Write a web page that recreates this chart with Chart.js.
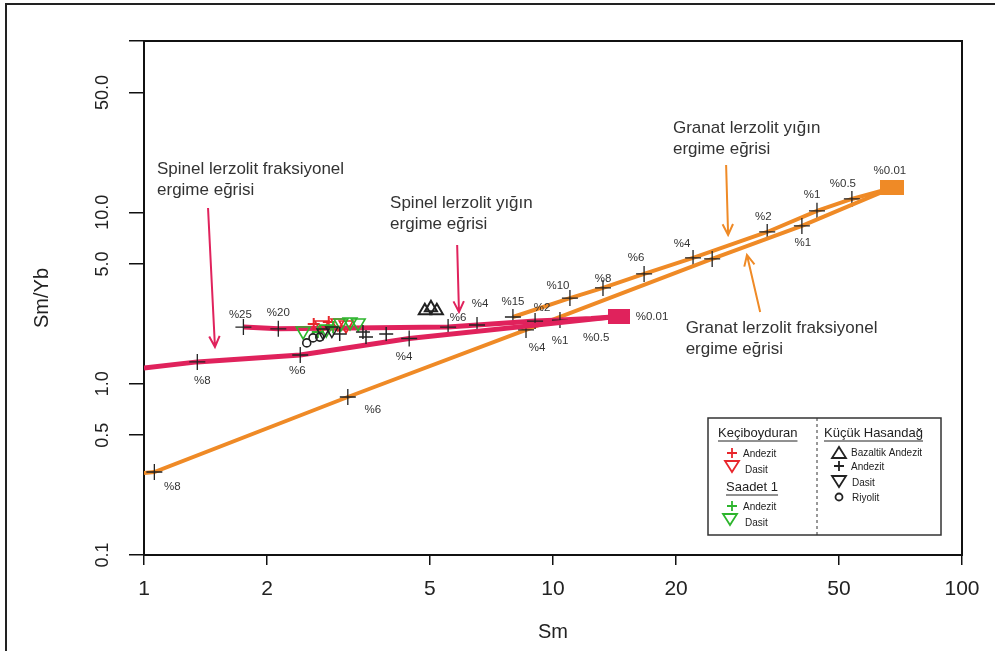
<!DOCTYPE html>
<html>
<head>
<meta charset="utf-8">
<title>Sm/Yb - Sm</title>
<script src="https://cdn.jsdelivr.net/npm/chart.js@4.4.1/dist/chart.umd.min.js"></script>
<style>
  html, body { margin: 0; padding: 0; background: #fff; overflow: hidden; }
  #wrap { position: relative; width: 995px; height: 651px; }
  #frame { position: absolute; left: 5px; top: 3px; width: 1200px; height: 1000px; border: 2px solid #222; }
  #c { position: absolute; left: 0; top: 0; }
</style>
</head>
<body>
<div id="wrap">
  <div id="frame"></div>
  <canvas id="c" width="995" height="651"></canvas>
</div>
<script>
// eksenler
const xTicks = [1, 2, 5, 10, 20, 50, 100];
const xTickLabels = ['1', '2', '5', '10', '20', '50', '100'];
const yTicks = [0.1, 0.5, 1, 5, 10, 50, 100];
const yTickLabels = ['0.1', '0.5', '1.0', '5.0', '10.0', '50.0', ''];

// Spinel lerzolit fraksiyonel ergime egrisi
const spinelFracSm = [1.0, 1.35, 2.41, 4.45, 14.5];
const spinelFracSmYb = [1.235, 1.34, 1.47, 1.835, 2.47];
const spinelFracLabels = ['', '%8', '%6', '%4', ''];

// Spinel lerzolit yigin ergime egrisi
const spinelBatchSm = [1.75, 2.13, 5.54, 6.52, 9.04, 10.4, 12.4, 14.5];
const spinelBatchSmYb = [2.14, 2.09, 2.14, 2.20, 2.32, 2.35, 2.40, 2.47];
const spinelBatchLabels = ['%25', '%20', '%6', '%4', '%2', '%1', '%0.5', ''];

// Granat lerzolit fraksiyonel ergime egrisi
const garnetFracSm = [1.0, 1.06, 3.15, 8.59, 24.5, 40.6, 67.4];
const garnetFracSmYb = [0.301, 0.305, 0.836, 2.06, 5.35, 8.33, 13.9];
const garnetFracLabels = ['', '%8', '%6', '%4', '', '%1', ''];

// Granat lerzolit yigin ergime egrisi
const garnetBatchSm = [7.98, 11.0, 13.25, 16.7, 22.0, 33.4, 44.2, 53.8, 67.4];
const garnetBatchSmYb = [2.45, 3.16, 3.62, 4.37, 5.42, 7.68, 10.2, 11.97, 13.9];
const garnetBatchLabels = ['%15', '%10', '%8', '%6', '%4', '%2', '%1', '%0.5', ''];

// kaynak (%0.01)
const sourceSm = [14.5, 67.4];
const sourceSmYb = [2.47, 13.9];
const sourceLabels = ['%0.01', '%0.01'];

// Keciboyduran
const kbAndezitSm = [2.60, 2.83];
const kbAndezitSmYb = [2.23, 2.29];
const kbDasitSm = [2.72, 2.98, 3.12];
const kbDasitSmYb = [2.20, 2.26, 2.20];
// Saadet 1
const saAndezitSm = [2.66, 2.90];
const saAndezitSmYb = [2.00, 2.14];
const saDasitSm = [2.45, 2.79, 3.03, 3.19, 3.34];
const saDasitSmYb = [2.03, 2.08, 2.26, 2.29, 2.26];
// Kucuk Hasandag
const khBazAndSm = [4.86, 5.03, 5.20];
const khBazAndSmYb = [2.66, 2.77, 2.66];
const khAndezitSm = [3.01, 3.43, 3.49, 3.91];
const khAndezitSmYb = [1.95, 2.00, 1.87, 1.95];
const khDasitSm = [2.74, 2.88];
const khDasitSmYb = [1.99, 2.04];
const khRiyolitSm = [2.50, 2.59, 2.69];
const khRiyolitSmYb = [1.73, 1.85, 1.87];

// aciklamalar ve oklar (veri biriminde)
const noteTexts = [
  ['Spinel lerzolit fraksiyonel', 'ergime eğrisi'],
  ['Spinel lerzolit yığın', 'ergime eğrisi'],
  ['Granat lerzolit yığın', 'ergime eğrisi'],
  ['Granat lerzolit fraksiyonel', 'ergime eğrisi']
];
const noteSm = [1.076, 3.996, 19.65, 21.1];
const noteSmYb = [17.9, 11.35, 31.1, 2.11];
const arrowFromSm = [1.434, 5.83, 26.5, 32.1];
const arrowFromSmYb = [10.6, 6.45, 18.9, 2.62];
const arrowToSm = [1.491, 5.89, 26.8, 29.8];
const arrowToSmYb = [1.637, 2.62, 7.38, 5.64];

const CRIMSON = '#E0225C';
const ORANGE = '#EF8A26';
const RED = '#E8262C';
const GREEN = '#2DB52D';
const INK = '#222';
const FONT = "'Liberation Sans', Arial, Helvetica, sans-serif";

// etiket kaydirmalari (piksel)
const spinelFracOffsets = [[0, 0], [5, 19], [-3, 16], [-5, 18], [0, 0]];
const spinelBatchOffsets = [[-3, -12], [0, -16], [10, -9], [3, -21], [7, -13], [0, 21], [5, 19], [0, 0]];
const garnetFracOffsets = [[0, 0], [18, 15], [25, 13], [11, 18], [0, 0], [1, 17], [0, 0]];
const garnetBatchOffsets = [[0, -15], [-12, -12], [0, -9], [-8, -16], [-11, -14], [-4, -15], [-5, -16], [-9, -15], [0, 0]];
const sourceOffsets = [[33, 0], [-2, -17]];

function pts(xs, ys) {
  return xs.map((x, i) => ({ x: x, y: ys[i] }));
}

function rectImage(w, h, color) {
  const c = document.createElement('canvas');
  c.width = w;
  c.height = h;
  const g = c.getContext('2d');
  g.fillStyle = color;
  g.fillRect(0, 0, w, h);
  return c;
}

function curve(xs, ys, labels, offsets, crosses, color, width) {
  return {
    data: pts(xs, ys),
    showLine: true,
    borderColor: color,
    borderWidth: width,
    pointStyle: 'cross',
    pointRadius: crosses.map(f => (f ? 8 : 0)),
    pointBorderColor: INK,
    pointBorderWidth: 1.3,
    pointBackgroundColor: 'rgba(0,0,0,0)',
    pctLabels: labels,
    pctOffsets: offsets,
    order: 10
  };
}

function marks(xs, ys, style, color, radius, width, rotation) {
  return {
    data: pts(xs, ys),
    showLine: false,
    pointStyle: style,
    pointRadius: radius,
    pointRotation: rotation || 0,
    pointBorderColor: color,
    pointBorderWidth: width,
    pointBackgroundColor: 'rgba(0,0,0,0)',
    order: 1
  };
}

// sembol cizimi (lejant icin)
function drawSymbol(ctx, kind, x, y, color) {
  ctx.save();
  ctx.strokeStyle = color;
  ctx.lineWidth = 1.8;
  ctx.beginPath();
  if (kind === 'plus') {
    ctx.moveTo(x - 5, y); ctx.lineTo(x + 5, y);
    ctx.moveTo(x, y - 5); ctx.lineTo(x, y + 5);
  } else if (kind === 'down') {
    ctx.moveTo(x - 7, y - 5); ctx.lineTo(x + 7, y - 5); ctx.lineTo(x, y + 6); ctx.closePath();
  } else if (kind === 'up') {
    ctx.moveTo(x - 7, y + 5); ctx.lineTo(x + 7, y + 5); ctx.lineTo(x, y - 6); ctx.closePath();
  } else if (kind === 'circle') {
    ctx.arc(x, y, 3.5, 0, Math.PI * 2);
  }
  ctx.stroke();
  ctx.restore();
}

function drawArrow(ctx, x1, y1, x2, y2, color) {
  const ang = Math.atan2(y2 - y1, x2 - x1);
  const hl = 12;
  ctx.save();
  ctx.strokeStyle = color;
  ctx.lineWidth = 2;
  ctx.beginPath();
  ctx.moveTo(x1, y1);
  ctx.lineTo(x2, y2);
  ctx.moveTo(x2 - hl * Math.cos(ang - 0.45), y2 - hl * Math.sin(ang - 0.45));
  ctx.lineTo(x2, y2);
  ctx.lineTo(x2 - hl * Math.cos(ang + 0.45), y2 - hl * Math.sin(ang + 0.45));
  ctx.stroke();
  ctx.restore();
}

function underlined(ctx, text, x, y) {
  ctx.fillText(text, x, y);
  const w = ctx.measureText(text).width;
  ctx.beginPath();
  ctx.moveTo(x, y + 8);
  ctx.lineTo(x + w, y + 8);
  ctx.stroke();
}

const overlay = {
  id: 'overlay',
  beforeDatasetsDraw(chart) {
    const a = chart.chartArea;
    const ctx = chart.ctx;
    ctx.save();
    ctx.strokeStyle = '#111';
    ctx.lineWidth = 2;
    ctx.strokeRect(a.left, a.top, a.right - a.left, a.bottom - a.top);
    ctx.restore();
  },
  afterDraw(chart) {
    const ctx = chart.ctx;
    const a = chart.chartArea;
    const xs = chart.scales.x;
    const ys = chart.scales.y;

    ctx.save();
    ctx.fillStyle = INK;
    ctx.textBaseline = 'middle';

    // y ekseni etiketleri (dik)
    ctx.font = '18px ' + FONT;
    ctx.textAlign = 'center';
    yTicks.forEach((v, i) => {
      if (!yTickLabels[i]) return;
      ctx.save();
      ctx.translate(a.left - 41, ys.getPixelForValue(v));
      ctx.rotate(-Math.PI / 2);
      ctx.fillText(yTickLabels[i], 0, 0);
      ctx.restore();
    });

    // eksen basliklari
    ctx.font = '20px ' + FONT;
    ctx.fillText('Sm', (a.left + a.right) / 2, 632);
    ctx.save();
    ctx.translate(42, (a.top + a.bottom) / 2);
    ctx.rotate(-Math.PI / 2);
    ctx.fillText('Sm/Yb', 0, 0);
    ctx.restore();

    // egri uzerindeki yuzde etiketleri
    ctx.font = '11.5px ' + FONT;
    ctx.fillStyle = '#333';
    chart.data.datasets.forEach((ds, i) => {
      if (!ds.pctLabels) return;
      const meta = chart.getDatasetMeta(i);
      ds.pctLabels.forEach((t, j) => {
        if (!t) return;
        const p = meta.data[j];
        const o = ds.pctOffsets[j];
        ctx.fillText(t, p.x + o[0], p.y + o[1]);
      });
    });

    // aciklamalar
    ctx.font = '17px ' + FONT;
    ctx.textAlign = 'left';
    ctx.fillStyle = '#333';
    noteTexts.forEach((lines, i) => {
      const x = xs.getPixelForValue(noteSm[i]);
      const y = ys.getPixelForValue(noteSmYb[i]);
      lines.forEach((t, k) => ctx.fillText(t, x, y + k * 21));
    });

    // oklar
    arrowFromSm.forEach((v, i) => {
      drawArrow(ctx,
        xs.getPixelForValue(v), ys.getPixelForValue(arrowFromSmYb[i]),
        xs.getPixelForValue(arrowToSm[i]), ys.getPixelForValue(arrowToSmYb[i]),
        i < 2 ? CRIMSON : ORANGE);
    });

    // lejant
    const lx = a.right - 254;
    const ly = a.bottom - 137;
    ctx.strokeStyle = '#333';
    ctx.lineWidth = 1.5;
    ctx.strokeRect(lx, ly, 233, 117);
    ctx.save();
    ctx.setLineDash([3, 3]);
    ctx.lineWidth = 1;
    ctx.beginPath();
    ctx.moveTo(lx + 109, ly);
    ctx.lineTo(lx + 109, ly + 117);
    ctx.stroke();
    ctx.restore();

    ctx.fillStyle = INK;
    ctx.strokeStyle = INK;
    ctx.lineWidth = 1;
    ctx.font = '13px ' + FONT;
    underlined(ctx, 'Keçiboyduran', lx + 10, ly + 15);
    underlined(ctx, 'Saadet 1', lx + 18, ly + 69);
    underlined(ctx, 'Küçük Hasandağ', lx + 116, ly + 15);

    ctx.font = '10px ' + FONT;
    drawSymbol(ctx, 'plus', lx + 24, ly + 35, RED);
    ctx.fillText('Andezit', lx + 35, ly + 36);
    drawSymbol(ctx, 'down', lx + 24, ly + 48, RED);
    ctx.fillText('Dasit', lx + 37, ly + 52);
    drawSymbol(ctx, 'plus', lx + 24, ly + 88, GREEN);
    ctx.fillText('Andezit', lx + 35, ly + 89);
    drawSymbol(ctx, 'down', lx + 22, ly + 101, GREEN);
    ctx.fillText('Dasit', lx + 37, ly + 105);

    drawSymbol(ctx, 'up', lx + 131, ly + 35, INK);
    ctx.fillText('Bazaltik Andezit', lx + 143, ly + 35);
    drawSymbol(ctx, 'plus', lx + 131, ly + 48, INK);
    ctx.fillText('Andezit', lx + 143, ly + 49);
    drawSymbol(ctx, 'down', lx + 131, ly + 63, INK);
    ctx.fillText('Dasit', lx + 144, ly + 65);
    drawSymbol(ctx, 'circle', lx + 131, ly + 79, INK);
    ctx.fillText('Riyolit', lx + 144, ly + 80);

    ctx.restore();
  }
};

const datasets = [
  curve(spinelFracSm, spinelFracSmYb, spinelFracLabels, spinelFracOffsets, [0, 1, 1, 1, 0], CRIMSON, 5),
  curve(spinelBatchSm, spinelBatchSmYb, spinelBatchLabels, spinelBatchOffsets, [1, 1, 1, 1, 1, 1, 0, 0], CRIMSON, 5),
  curve(garnetFracSm, garnetFracSmYb, garnetFracLabels, garnetFracOffsets, [0, 1, 1, 1, 1, 1, 0], ORANGE, 4),
  curve(garnetBatchSm, garnetBatchSmYb, garnetBatchLabels, garnetBatchOffsets, [1, 1, 1, 1, 1, 1, 1, 1, 0], ORANGE, 4),
  {
    data: pts(sourceSm, sourceSmYb),
    showLine: false,
    pointStyle: [rectImage(22, 15, CRIMSON), rectImage(24, 15, ORANGE)],
    pointRadius: 10,
    pctLabels: sourceLabels,
    pctOffsets: sourceOffsets,
    order: 5
  },
  marks(khRiyolitSm, khRiyolitSmYb, 'circle', INK, 4, 1.6),
  marks(khDasitSm, khDasitSmYb, 'triangle', INK, 7, 1.5, 180),
  marks(khAndezitSm, khAndezitSmYb, 'cross', INK, 7, 1.5),
  marks(khBazAndSm, khBazAndSmYb, 'triangle', INK, 7, 2),
  marks(saAndezitSm, saAndezitSmYb, 'cross', GREEN, 6, 2),
  marks(saDasitSm, saDasitSmYb, 'triangle', GREEN, 8, 1.6, 180),
  marks(kbDasitSm, kbDasitSmYb, 'triangle', RED, 8, 1.6, 180),
  marks(kbAndezitSm, kbAndezitSmYb, 'cross', RED, 6, 2)
];

new Chart(document.getElementById('c'), {
  type: 'scatter',
  data: { datasets: datasets },
  options: {
    responsive: false,
    animation: false,
    events: [],
    layout: { padding: { left: 0, right: 33, top: 41, bottom: 0 } },
    plugins: { legend: { display: false }, tooltip: { enabled: false } },
    scales: {
      x: {
        type: 'logarithmic',
        min: 1,
        max: 100,
        afterBuildTicks: s => { s.ticks = xTicks.map(v => ({ value: v })); },
        afterFit: s => { s.height = 96; },
        ticks: {
          autoSkip: false,
          maxRotation: 0,
          padding: 12,
          color: INK,
          font: { family: FONT, size: 21 },
          callback: (v, i) => xTickLabels[i]
        },
        grid: { drawOnChartArea: false, drawTicks: true, tickLength: 10, color: '#111', lineWidth: 1.5 },
        border: { display: false }
      },
      y: {
        type: 'logarithmic',
        min: 0.1,
        max: 100,
        afterBuildTicks: s => { s.ticks = yTicks.map(v => ({ value: v })); },
        afterFit: s => { s.width = 144; },
        ticks: { display: false },
        grid: { drawOnChartArea: false, drawTicks: true, tickLength: 15, color: '#111', lineWidth: 1.5 },
        border: { display: false }
      }
    }
  },
  plugins: [overlay]
});
</script>
</body>
</html>
